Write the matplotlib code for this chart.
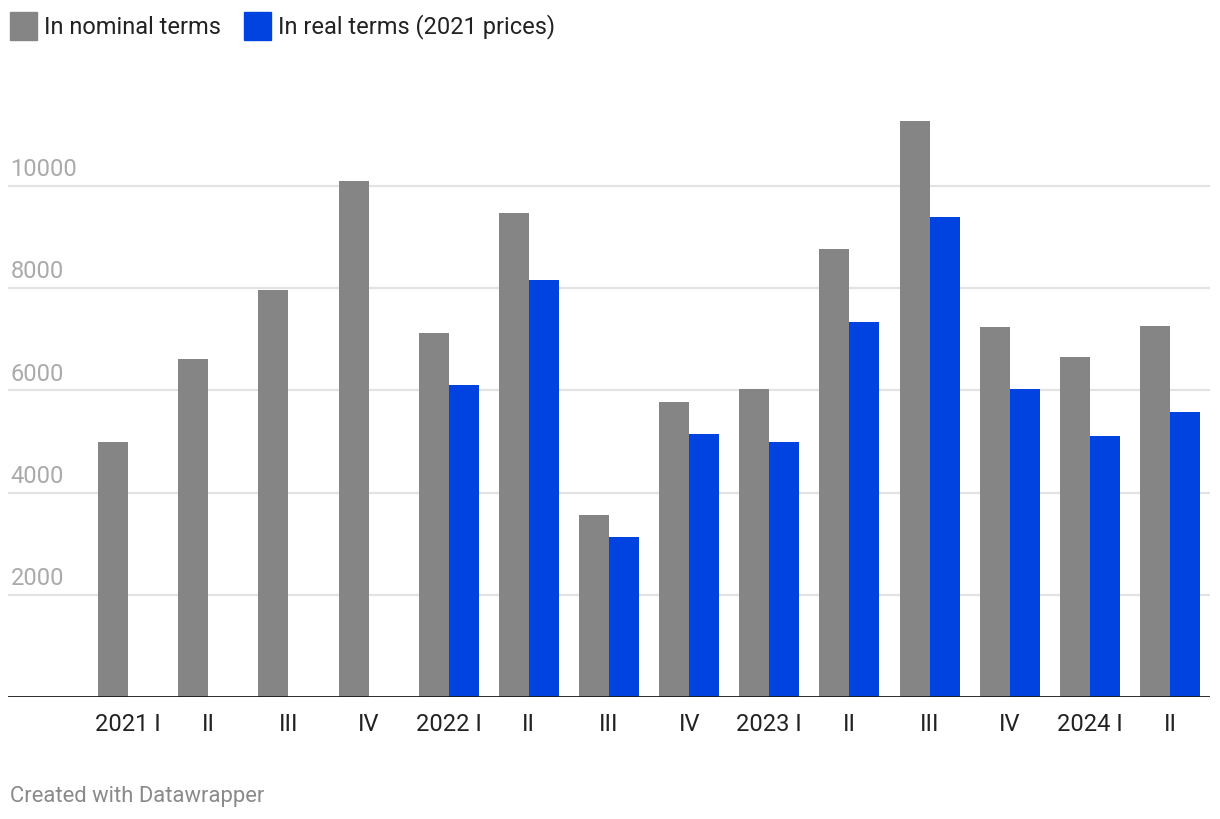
import numpy as np
import matplotlib.pyplot as plt
from matplotlib.patches import Rectangle
from matplotlib.transforms import blended_transform_factory

plt.rcParams['font.family'] = ['Roboto', 'DejaVu Sans']

# 분기 라벨
quarters = ['2021 I', 'II', 'III', 'IV', '2022 I', 'II', 'III', 'IV',
            '2023 I', 'II', 'III', 'IV', '2024 I', 'II']
# 명목 / 실질 (2021년 가격)
nominal = [4990, 6610, 7960, 10100, 7120, 9470, 3560, 5770,
           6030, 8770, 11270, 7240, 6650, 7260]
real = [np.nan, np.nan, np.nan, np.nan, 6110, 8160, 3130, 5150,
        4990, 7340, 9390, 6030, 5110, 5580]
yticks = [2000, 4000, 6000, 8000, 10000]

GRAY = '#858585'
BLUE = '#0043E1'

W, H = 1220, 820
fig = plt.figure(figsize=(W / 100, H / 100), dpi=100)
ax = fig.add_axes([8 / W, (H - 698) / H, 1202 / W, 598 / H])

x = np.arange(len(quarters))
bw = 0.374
ax.bar(x - bw / 2, nominal, width=bw, color=GRAY, zorder=2)
ax.bar(x + bw / 2, real, width=bw, color=BLUE, zorder=2)

ax.set_xlim(-1.5, 13.5)
ax.set_ylim(0, 11700)

# 격자선과 y 라벨
trans = blended_transform_factory(ax.transAxes, ax.transData)
for t in yticks:
    ax.axhline(t, color='#e3e3e3', linewidth=1.6, zorder=1)
    ax.text(0.002, t + 110, str(t), transform=trans, fontsize=17,
            color='#aaaaaa', ha='left', va='bottom')
ax.axhline(0, color='#1a1a1a', linewidth=2, zorder=3)

ax.set_yticks([])
ax.set_xticks(x)
ax.set_xticklabels(quarters, fontsize=17, color='#222222')
ax.tick_params(axis='x', length=0, pad=11)
for s in ax.spines.values():
    s.set_visible(False)

# 범례
def fig_rect(x0, y0, w, h, color):
    fig.add_artist(Rectangle((x0 / W, 1 - (y0 + h) / H), w / W, h / H,
                             transform=fig.transFigure, color=color))

fig_rect(10, 13, 27, 28, GRAY)
fig.text(44 / W, 1 - 27 / H, 'In nominal terms', fontsize=17,
         color='#222222', va='center', ha='left')
fig_rect(244, 13, 27, 28, BLUE)
fig.text(278 / W, 1 - 27 / H, 'In real terms (2021 prices)', fontsize=17,
         color='#222222', va='center', ha='left')

fig.text(10 / W, 1 - 797 / H, 'Created with Datawrapper', fontsize=15.8,
         color='#8a8a8a', va='center', ha='left')

fig.savefig('out.png', dpi=100)
